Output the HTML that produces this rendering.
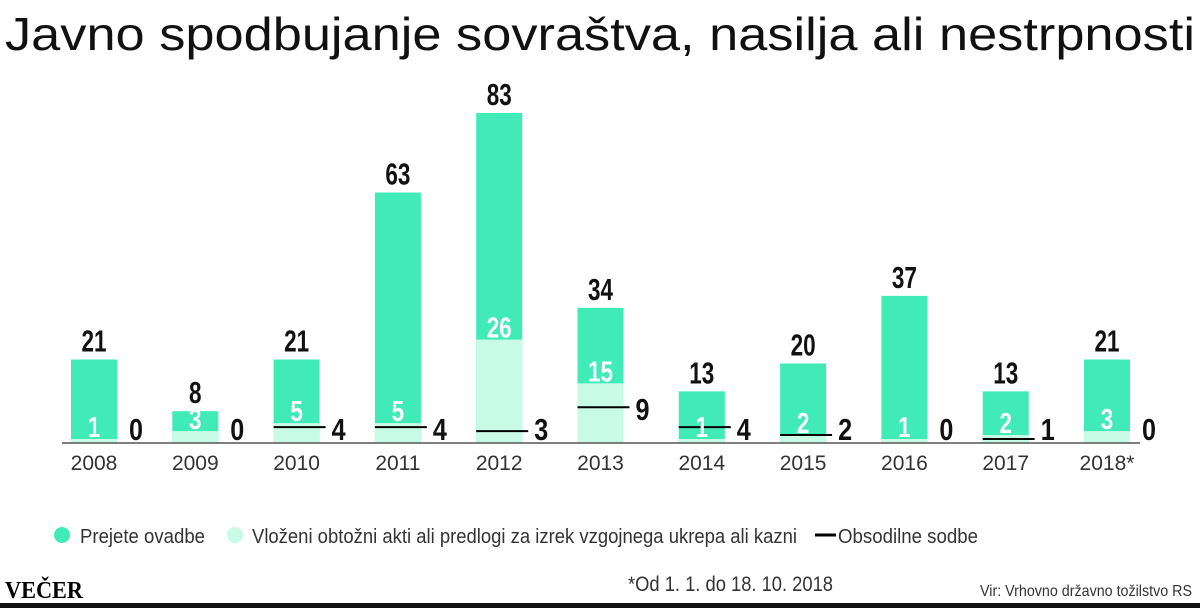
<!DOCTYPE html>
<html><head><meta charset="utf-8"><style>
html,body{margin:0;padding:0;background:#fff;}
svg{display:block;}
.b{font-family:"Liberation Sans Narrow","Liberation Sans",sans-serif;font-weight:bold;}
.l{font-family:"Liberation Sans Narrow","Liberation Sans",sans-serif;fill:#333;}
</style></head><body>
<svg width="1200" height="608" viewBox="0 0 1200 608" xmlns="http://www.w3.org/2000/svg">
<text x="5" y="50" font-family="Liberation Sans Narrow,Liberation Sans,sans-serif" font-size="46" fill="#111" textLength="1190" lengthAdjust="spacingAndGlyphs">Javno spodbujanje sovraštva, nasilja ali nestrpnosti</text>
<g id="bars"></g>
<line x1="62" y1="443" x2="1140" y2="443" stroke="#555" stroke-width="1.5"/>
<g class="l" font-size="21" text-anchor="middle" id="years"></g>
<circle cx="62" cy="535" r="8" fill="#41ebb8"/>
<text class="l" x="80" y="543" font-size="20" textLength="125" lengthAdjust="spacingAndGlyphs">Prejete ovadbe</text>
<circle cx="235" cy="535" r="8" fill="#c8fbe6"/>
<text class="l" x="252" y="543" font-size="20" textLength="545" lengthAdjust="spacingAndGlyphs">Vloženi obtožni akti ali predlogi za izrek vzgojnega ukrepa ali kazni</text>
<line x1="815" y1="535" x2="836" y2="535" stroke="#000" stroke-width="3"/>
<text class="l" x="838" y="543" font-size="20" textLength="140" lengthAdjust="spacingAndGlyphs">Obsodilne sodbe</text>
<text x="5" y="598" font-family="Liberation Serif,serif" font-weight="bold" font-size="24" fill="#000" textLength="78" lengthAdjust="spacingAndGlyphs">VEČER</text>
<text class="l" x="628" y="591" font-size="21" textLength="205" lengthAdjust="spacingAndGlyphs">*Od 1. 1. do 18. 10. 2018</text>
<text class="l" x="980" y="596" font-size="16" textLength="212" lengthAdjust="spacingAndGlyphs">Vir: Vrhovno državno tožilstvo RS</text>
<rect x="0" y="603" width="1200" height="5" fill="#111"/>
</svg>
<script>
var d=[["2008",21,1,0],["2009",8,3,0],["2010",21,5,4],["2011",63,5,4],["2012",83,26,3],["2013",34,15,9],["2014",13,1,4],["2015",20,2,2],["2016",37,1,0],["2017",13,2,1],["2018*",21,3,0]];
var k=3.976,B=443,s="",y="";
function tl(v,w){var n=String(v).length;return ' textLength="'+(n*w)+'" lengthAdjust="spacingAndGlyphs"';}
d.forEach(function(r,i){
var x=71+i*101.3,w=46,t=B-r[1]*k,lt=B-r[2]*k,bl=B-r[3]*k;
s+='<rect x="'+x+'" y="'+t+'" width="'+w+'" height="'+(B-t)+'" fill="#41ebb8"/>';
s+='<rect x="'+x+'" y="'+lt+'" width="'+w+'" height="'+(B-lt)+'" fill="#c8fbe6"/>';
if(r[3]>0)s+='<line x1="'+x+'" x2="'+(x+52)+'" y1="'+bl+'" y2="'+bl+'" stroke="#000" stroke-width="2"/>';
s+='<text class="b" x="'+(x+23)+'" y="'+(t-8)+'" font-size="31" text-anchor="middle" fill="#111"'+tl(r[1],12.5)+'>'+r[1]+'</text>';
s+='<text class="b" x="'+(x+23)+'" y="'+Math.min(lt-2,437)+'" font-size="29" text-anchor="middle" fill="#fff"'+tl(r[2],12.5)+'>'+r[2]+'</text>';
s+='<text class="b" x="'+(x+65)+'" y="'+Math.min(bl+13,440)+'" font-size="31" text-anchor="middle" fill="#111"'+tl(r[3],14)+'>'+r[3]+'</text>';
y+='<text x="'+(x+23)+'" y="470">'+r[0]+'</text>';
});
document.getElementById("bars").innerHTML=s;
document.getElementById("years").innerHTML=y;
</script>
</body></html>
